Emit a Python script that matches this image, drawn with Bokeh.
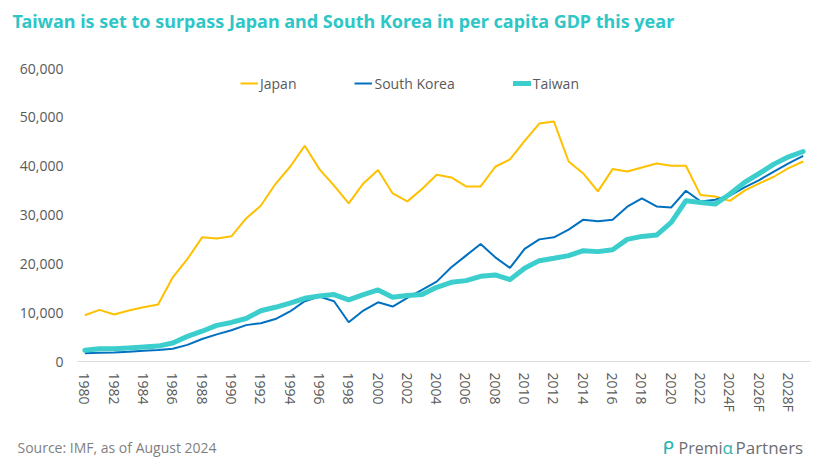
from bokeh.plotting import figure
from bokeh.models import (ColumnDataSource, Legend, LegendItem, FixedTicker,
                          NumeralTickFormatter, Label, Range1d)
from bokeh.layouts import column
from bokeh.embed import file_html
from bokeh.resources import INLINE

years = list(range(1980, 2030))

japan = [9465, 10570, 9610, 10430, 11100, 11660, 17240, 21000, 25420, 25200,
         25630, 29300, 31900, 36340, 39880, 44170, 39400, 36000, 32380, 36470,
         39200, 34420, 32790, 35310, 38240, 37700, 35860, 35860, 39880, 41380,
         45200, 48730, 49140, 40960, 38500, 34830, 39400, 38900, 39730, 40550,
         40080, 40080, 34080, 33800, 32900, 35000, 36470, 37830, 39600, 40960]

korea = [1700, 1800, 1850, 2000, 2200, 2350, 2600, 3400, 4600, 5550,
         6400, 7450, 7850, 8700, 10250, 12350, 13290, 12330, 8040, 10430,
         12130, 11250, 13020, 14660, 16360, 19290, 21680, 24070, 21330, 19160,
         23050, 25010, 25420, 26990, 29040, 28700, 29040, 31700, 33400, 31760,
         31560, 34970, 32790, 33130, 33950, 35650, 37150, 38900, 40550, 42130]

taiwan = [2300, 2600, 2600, 2750, 2950, 3150, 3800, 5150, 6200, 7400,
          8000, 8800, 10400, 11100, 11950, 12950, 13400, 13700, 12610, 13700,
          14660, 13160, 13500, 13700, 15200, 16220, 16560, 17440, 17720, 16770,
          19080, 20650, 21130, 21680, 22700, 22500, 22900, 25010, 25620, 25900,
          28490, 32920, 32580, 32240, 34290, 36670, 38500, 40420, 41920, 43000]

tick_years = list(range(1980, 2029, 2))
tick_labels = {y: (str(y) + "F" if y >= 2024 else str(y)) for y in tick_years}
y_ticks = [0, 10000, 20000, 30000, 40000, 50000, 60000]

title_text = "Taiwan is set to surpass Japan and South Korea in per capita GDP this year"
source_text = "Source: IMF, as of August 2024"

FONT = "Open Sans"
GRAY = "#595959"
W = 830
HEAD_H = 45
FOOT_H = 32
MAIN_H = 469 - HEAD_H - FOOT_H


def blank(h):
    f = figure(width=W, height=h, output_backend="svg", toolbar_location=None,
               x_range=Range1d(0, W), y_range=Range1d(h, 0),
               x_axis_location=None, y_axis_location=None,
               min_border=0, min_border_left=0, min_border_right=0,
               min_border_top=0, min_border_bottom=0, frame_align=False)
    f.outline_line_color = None
    f.xgrid.grid_line_color = None
    f.ygrid.grid_line_color = None
    f.border_fill_color = "white"
    return f


# header
head = blank(HEAD_H)
head.add_layout(Label(x=12, y=20, text=title_text, text_font="Noto Sans",
                      text_font_style="bold", text_font_size="18px",
                      text_color="#2EC6C6", text_baseline="middle"))

# main chart
src = ColumnDataSource(dict(year=years, japan=japan, korea=korea, taiwan=taiwan))

p = figure(width=W, height=MAIN_H, output_backend="svg", toolbar_location=None,
           x_range=Range1d(1979.5, 2029.5), y_range=Range1d(0, 60000),
           min_border_left=77, min_border_right=20, min_border_top=68 - HEAD_H,
           min_border_bottom=MAIN_H - (361 - HEAD_H), frame_align=False)
p.outline_line_color = None
p.xgrid.grid_line_color = None
p.ygrid.grid_line_color = None
p.background_fill_color = "white"
p.border_fill_color = "white"

r_j = p.line("year", "japan", source=src, line_color="#FFC000", line_width=2)
r_k = p.line("year", "korea", source=src, line_color="#0070C0", line_width=2)
r_t = p.line("year", "taiwan", source=src, line_color="#3CCDCD", line_width=5,
             line_join="round", line_cap="round")

xa = p.xaxis[0]
xa.ticker = FixedTicker(ticks=tick_years)
xa.major_label_overrides = {y: s for y, s in tick_labels.items()}
xa.major_label_orientation = "vertical"
xa.major_tick_line_color = None
xa.minor_tick_line_color = None
xa.axis_line_color = "#D9D9D9"
xa.axis_line_width = 1
xa.major_label_text_font = FONT
xa.major_label_text_font_size = "14px"
xa.major_label_text_color = GRAY
xa.major_label_standoff = 5

ya = p.yaxis[0]
ya.ticker = FixedTicker(ticks=y_ticks)
ya.formatter = NumeralTickFormatter(format="0,0")
ya.major_tick_line_color = None
ya.minor_tick_line_color = None
ya.axis_line_color = None
ya.major_label_text_font = FONT
ya.major_label_text_font_size = "14px"
ya.major_label_text_color = GRAY
ya.major_label_standoff = 8

legend = Legend(items=[LegendItem(label="Japan", renderers=[r_j]),
                       LegendItem(label="South Korea", renderers=[r_k]),
                       LegendItem(label="Taiwan", renderers=[r_t])],
                orientation="horizontal", location=(163, 268),
                background_fill_alpha=0, border_line_color=None,
                label_text_font=FONT, label_text_font_size="14px",
                label_text_color=GRAY, glyph_width=18, label_standoff=2,
                spacing=58, margin=0, padding=0)
p.add_layout(legend)

# footer
foot = blank(FOOT_H)
fy = 447 - (469 - FOOT_H)
foot.add_layout(Label(x=17, y=fy, text=source_text, text_font=FONT,
                      text_font_size="14px", text_color="#7F7F7F",
                      text_baseline="middle"))
foot.add_layout(Label(x=662, y=fy, text="ᑭ", text_font="DejaVu Sans",
                      text_font_size="18px", text_color="#2BB5B0",
                      text_baseline="middle"))
foot.add_layout(Label(x=678, y=fy, text="Premi", text_font=FONT,
                      text_font_size="16px", text_color="#6D6E71",
                      text_baseline="middle"))
foot.add_layout(Label(x=722, y=fy, text="α", text_font=FONT,
                      text_font_size="17px", text_color="#2BB5B0",
                      text_baseline="middle"))
foot.add_layout(Label(x=735, y=fy, text="Partners", text_font=FONT,
                      text_font_size="17px", text_color="#6D6E71",
                      text_baseline="middle"))

layout = column(head, p, foot, spacing=0)
open("out.html", "w").write(file_html(layout, INLINE))
